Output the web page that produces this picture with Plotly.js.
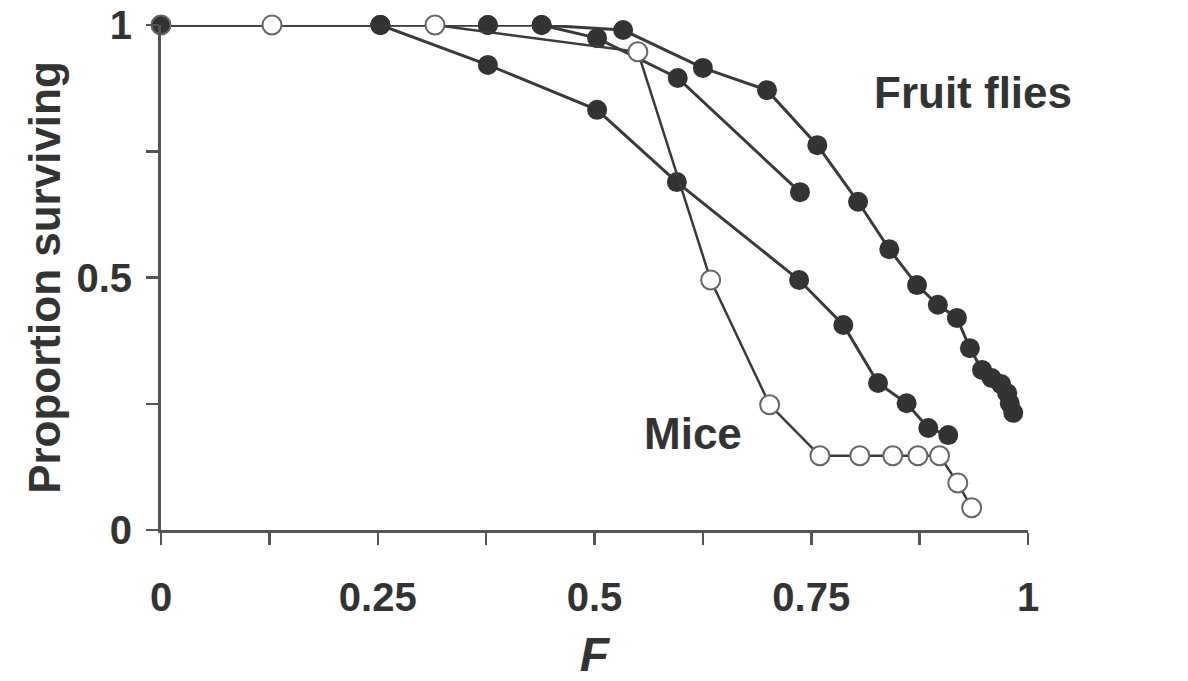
<!DOCTYPE html>
<html>
<head>
<meta charset="utf-8">
<script src="https://cdn.plot.ly/plotly-3.0.1.min.js"></script>
<style>html,body{margin:0;padding:0;background:#fff;}#chart{width:1188px;height:681px;}</style>
</head>
<body>
<div id="chart"></div>
<script>
// Mice (open circles)
const miceF = [0, 0.128, 0.316, 0.550, 0.634, 0.702, 0.760, 0.806, 0.844, 0.873, 0.898, 0.919, 0.935];
const miceS = [1, 1, 1, 0.947, 0.495, 0.248, 0.147, 0.147, 0.147, 0.147, 0.147, 0.093, 0.044];
// Fruit fly lines (filled circles)
const fly1F = [0, 0.253, 0.377, 0.503, 0.595, 0.736, 0.787, 0.827, 0.860, 0.885, 0.908];
const fly1S = [1, 1, 0.921, 0.832, 0.689, 0.495, 0.406, 0.291, 0.251, 0.202, 0.188];
const fly2F = [0, 0.253, 0.377, 0.439, 0.503, 0.596, 0.737];
const fly2S = [1, 1, 1, 1, 0.974, 0.895, 0.669];
const fly3F = [0, 0.253, 0.377, 0.439, 0.533, 0.625, 0.699, 0.757, 0.804, 0.840, 0.872, 0.896, 0.918, 0.933, 0.947, 0.958, 0.969, 0.976, 0.979, 0.983];
const fly3S = [1, 1, 1, 1, 0.990, 0.915, 0.871, 0.762, 0.650, 0.556, 0.485, 0.446, 0.420, 0.360, 0.317, 0.301, 0.289, 0.271, 0.251, 0.232];
// Axis ticks
const xTickVals = [0, 0.125, 0.25, 0.375, 0.5, 0.625, 0.75, 0.875, 1];
const xTickText = ['0', '', '0.25', '', '0.5', '', '0.75', '', '1'];
const yTickVals = [0, 0.25, 0.5, 0.75, 1];
const yTickText = ['0', '', '0.5', '', '1'];
const labels = {flies: 'Fruit flies', mice: 'Mice', xTitle: 'F', yTitle: 'Proportion surviving'};

const dark = '#333333';
const lineStyle = {color: '#3a3a3a', width: 3};
function flyTrace(xs, ys) {
  return {x: xs, y: ys, type: 'scatter', mode: 'lines+markers', cliponaxis: false,
    line: lineStyle, marker: {size: 20, color: dark, line: {width: 0}}, showlegend: false, hoverinfo: 'skip'};
}
const miceColors = miceF.map((v, i) => i === 0 ? dark : '#ffffff');
const traces = [
  flyTrace(fly1F, fly1S),
  flyTrace(fly2F, fly2S),
  flyTrace(fly3F, fly3S),
  {x: miceF, y: miceS, type: 'scatter', mode: 'lines+markers', cliponaxis: false,
    line: {color: '#3a3a3a', width: 2.5},
    marker: {size: 19, color: miceColors, line: {color: '#666666', width: 2}},
    showlegend: false, hoverinfo: 'skip'}
];

const fam = 'Liberation Sans, Arial, sans-serif';
const tickFont = {family: fam, size: 40, color: '#333333', weight: 'bold'};
const layout = {
  width: 1188, height: 681,
  margin: {l: 161, r: 160, t: 25, b: 151},
  paper_bgcolor: '#ffffff', plot_bgcolor: '#ffffff',
  font: {family: fam, color: '#333333'},
  xaxis: {
    range: [0, 1], tickvals: xTickVals, ticktext: xTickText,
    showgrid: false, zeroline: false, showline: true, linecolor: '#555555', linewidth: 3,
    ticks: 'outside', ticklen: 12, tickwidth: 2.5, tickcolor: '#555555',
    tickfont: tickFont, ticklabelstandoff: 18, automargin: false,
    title: {text: '<i>' + labels.xTitle + '</i>', font: {family: fam, size: 48, color: '#333333', weight: 'bold'}, standoff: 36}
  },
  yaxis: {
    range: [0, 1], tickvals: yTickVals, ticktext: yTickText,
    showgrid: false, zeroline: false, showline: true, linecolor: '#555555', linewidth: 3,
    ticks: 'outside', ticklen: 12, tickwidth: 2.5, tickcolor: '#555555',
    tickfont: tickFont, ticklabelstandoff: 6, automargin: false,
    title: {text: labels.yTitle, font: {family: fam, size: 44, color: '#333333', weight: 'bold'}, standoff: 2}
  },
  annotations: [
    {x: 0.937, y: 0.867, xref: 'x', yref: 'y', text: '<b>' + labels.flies + '</b>', showarrow: false,
      font: {size: 44, color: '#333333'}},
    {x: 0.614, y: 0.192, xref: 'x', yref: 'y', text: '<b>' + labels.mice + '</b>', showarrow: false,
      font: {size: 44, color: '#333333'}}
  ]
};
Plotly.newPlot('chart', traces, layout, {staticPlot: true, displayModeBar: false});
</script>
</body>
</html>
